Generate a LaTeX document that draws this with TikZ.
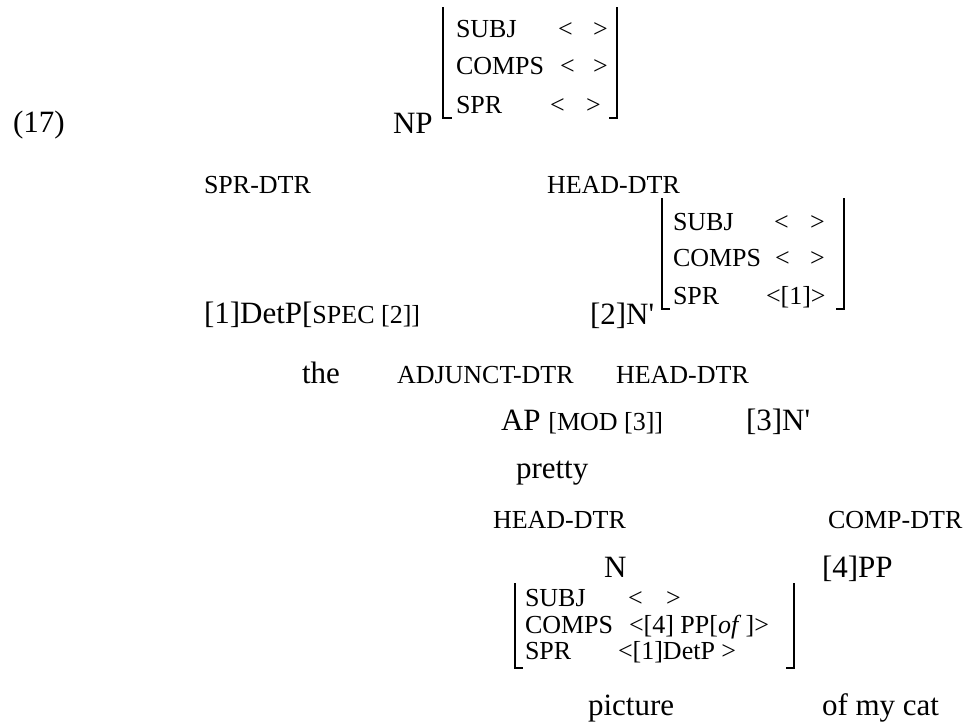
\documentclass[tikz,border=0pt]{standalone}
\usepackage{fontspec}
\newfontfamily\tnr{Liberation Serif}
\newcommand\fsmain{\fontsize{31}{36}\selectfont}
\newcommand\fssmall{\fontsize{26}{30}\selectfont}
\begin{document}
\begin{tikzpicture}[x=1pt,y=-1pt,
  txt/.style={inner sep=0pt, outer sep=0pt, anchor=base west, font=\tnr\fsmain},
  sm/.style={txt, font=\tnr\fssmall},
  bar/.style={line width=1.1pt, line cap=butt}]
\useasboundingbox (0,0) rectangle (969,724);
% example number
\node[txt] (num) at (13,132) {(17)};
% top NP
\node[txt] (np) at (393,133) {NP};
\draw[bar] (443,7) |- (452,118);
\draw[bar] (617,7) |- (609,118);
\node[sm] (a1) at (456,37) {SUBJ};
\node[sm] (a1l) at (558,37) {<};
\node[sm] (a1r) at (593,37) {>};
\node[sm] (a2) at (456,74) {COMPS};
\node[sm] (a2l) at (560,74) {<};
\node[sm] (a2r) at (593,74) {>};
\node[sm] (a3) at (456,113) {SPR};
\node[sm] (a3l) at (550,113) {<};
\node[sm] (a3r) at (586,113) {>};
% daughters labels
\node[sm] (sprdtr) at (204,193) {SPR-DTR};
\node[sm] (headdtr1) at (547,193) {HEAD-DTR};
% second matrix
\draw[bar] (662,198) |- (670,309);
\draw[bar] (844,198) |- (836,309);
\node[sm] (b1) at (673,230) {SUBJ};
\node[sm] (b1l) at (774,230) {<};
\node[sm] (b1r) at (810,230) {>};
\node[sm] (b2) at (673,266) {COMPS};
\node[sm] (b2l) at (775,266) {<};
\node[sm] (b2r) at (810,266) {>};
\node[sm] (b3) at (673,304) {SPR};
\node[sm] (b3l) at (766,304) {<[1]>};
\node[txt] (detp) at (204,323) {[1]DetP[{\fssmall SPEC [2]]}};
\node[txt] (nbar2) at (590,324) {[2]N'};
% lower level
\node[txt] (the) at (302,383) {the};
\node[sm] (adjdtr) at (397,383) {ADJUNCT-DTR};
\node[sm] (headdtr2) at (616,383) {HEAD-DTR};
\node[txt] (ap) at (501,430) {AP {\fssmall [MOD [3]]}};
\node[txt] (nbar3) at (746,430) {[3]N'};
\node[txt] (pretty) at (516,478) {pretty};
\node[sm] (headdtr3) at (493,528) {HEAD-DTR};
\node[sm] (compdtr) at (828,528) {COMP-DTR};
\node[txt] (n) at (604,577) {N};
\node[txt] (pp) at (822,577) {[4]PP};
% third matrix
\draw[bar] (515,583) |- (523,668);
\draw[bar] (794,583) |- (786,668);
\node[sm] (c1) at (525,606) {SUBJ};
\node[sm] (c1l) at (628,606) {<};
\node[sm] (c1r) at (666,606) {>};
\node[sm] (c2) at (525,633) {COMPS};
\node[sm] (c2v) at (629,633) {<[4] PP[\textit{of}\,]>};
\node[sm] (c3) at (525,659) {SPR};
\node[sm] (c3v) at (618,659) {<[1]DetP >};
% words
\node[txt] (picture) at (588,715) {picture};
\node[txt] (ofmycat) at (822,715) {of my cat};
\end{tikzpicture}
\end{document}
